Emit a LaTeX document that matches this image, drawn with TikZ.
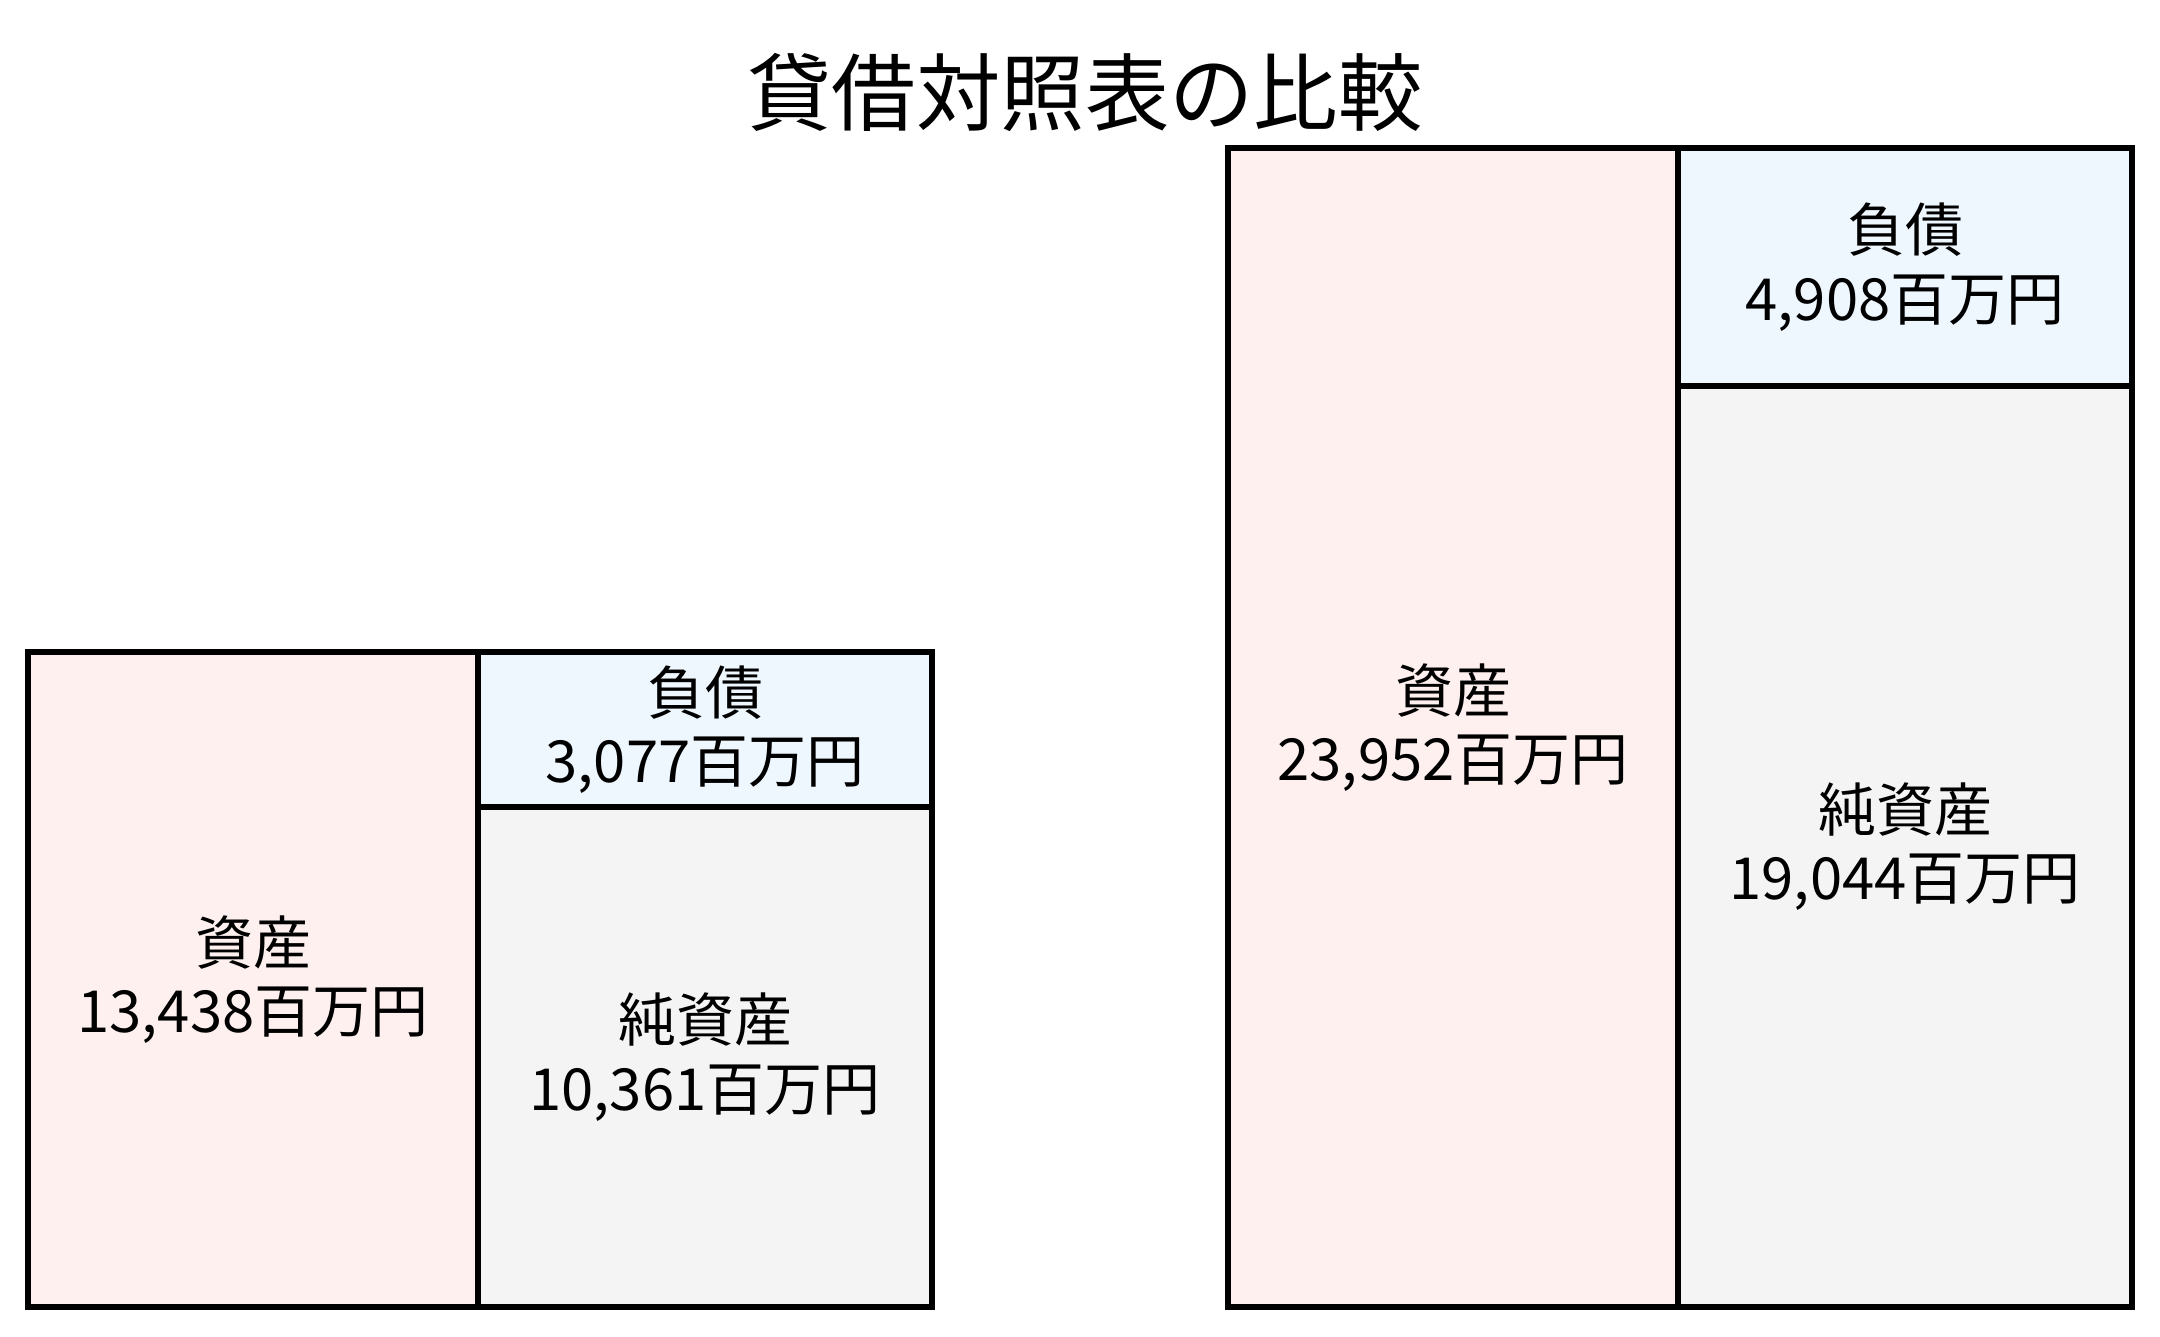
\documentclass[tikz,border=0pt]{standalone}
\usepackage{fontspec}
\setmainfont{Noto Sans CJK JP}
\usepackage{tikz}
\usetikzlibrary{calc}
\usetikzlibrary{positioning}
\definecolor{assetfill}{RGB}{253,240,239}
\definecolor{debtfill}{RGB}{238,246,254}
\definecolor{equityfill}{RGB}{244,244,244}

\begin{document}
\begin{tikzpicture}[box/.style={draw,rectangle,line width=1.5pt,outer sep=0pt,inner sep=0pt,align=center,font=\fontsize{16.5}{19.5}\selectfont}]
\useasboundingbox (0,0) rectangle (21.6,-13.36);
\node[font=\fontsize{24}{29}\selectfont](t) at (10.85,-0.92){貸借対照表の比較};

\node[box,fill=assetfill,minimum width=4.5cm,minimum height=6.55cm,anchor=north west](a1) at (0.28,-6.52){資産\\13,438百万円};
\node[box,fill=debtfill,minimum width=4.54cm,minimum height=1.55cm](d1)[right=0cm of a1.north east,anchor=north west]{負債\\3,077百万円};
\node[box,fill=equityfill,minimum width=4.54cm,minimum height=5cm](e1)[below=0cm of d1]{純資産\\10,361百万円};

\node[box,fill=assetfill,minimum width=4.5cm,minimum height=11.59cm,anchor=north west](a2) at (12.28,-1.48){資産\\23,952百万円};
\node[box,fill=debtfill,minimum width=4.54cm,minimum height=2.38cm](d2)[right=0cm of a2.north east,anchor=north west]{負債\\4,908百万円};
\node[box,fill=equityfill,minimum width=4.54cm,minimum height=9.21cm](e2)[below=0cm of d2]{純資産\\19,044百万円};

\end{tikzpicture}
\end{document}
